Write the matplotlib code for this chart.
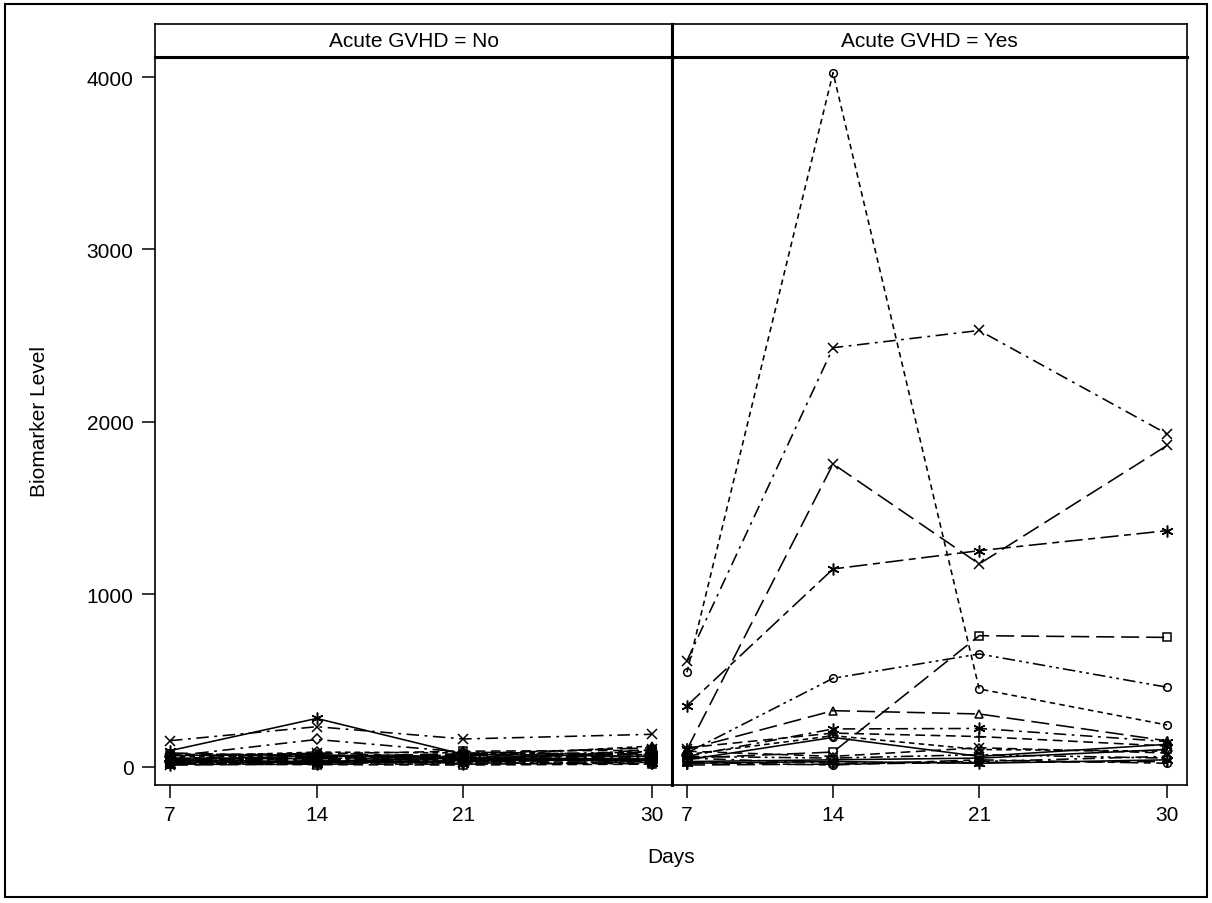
import matplotlib
matplotlib.use("Agg")
import matplotlib.pyplot as plt
from matplotlib.patches import Rectangle

plt.rcParams["font.family"] = ["Liberation Sans", "DejaVu Sans"]
plt.rcParams["lines.scale_dashes"] = False

# data: biomarker level per patient at days 7, 14, 21, 30
days = [7, 14, 21, 30]
panel_titles = ["Acute GVHD = No", "Acute GVHD = Yes"]
y_ticks = [0, 1000, 2000, 3000, 4000]

gvhd_no = [
    [151, 232, 161, 188],
    [93, 280, 72, 60],
    [60, 158, 85, 70],
    [80, 60, 75, 110],
    [70, 75, 90, 95],
    [55, 65, 60, 120],
    [50, 45, 70, 85],
    [45, 80, 55, 60],
    [40, 55, 65, 75],
    [38, 30, 50, 45],
    [35, 50, 40, 90],
    [30, 40, 60, 55],
    [28, 25, 35, 40],
    [25, 45, 30, 65],
    [22, 35, 45, 30],
    [20, 30, 25, 50],
    [18, 20, 40, 35],
    [15, 25, 20, 30],
    [12, 18, 30, 25],
    [10, 15, 15, 20],
    [65, 70, 45, 35],
    [58, 85, 80, 70],
    [48, 38, 28, 100],
    [42, 62, 52, 42],
    [32, 28, 22, 18],
    [26, 52, 48, 80],
    [16, 12, 10, 15],
]

gvhd_yes = [
    [548, 4025, 451, 242],
    [615, 2430, 2530, 1930],
    [100, 1756, 1176, 1863],
    [354, 1147, 1253, 1369],
    [50, 85, 760, 750],
    [80, 513, 654, 461],
    [100, 325, 306, 150],
    [60, 219, 222, 146],
    [110, 195, 175, 120],
    [70, 180, 100, 90],
    [40, 170, 60, 130],
    [90, 60, 110, 80],
    [30, 40, 50, 100],
    [50, 20, 30, 60],
    [20, 30, 20, 40],
    [10, 15, 25, 30],
    [60, 50, 70, 50],
    [25, 10, 40, 20],
]

# line / marker styles (SAS journal-like)
ls_cycle = {
    "solid": "-",
    "short": (0, (4, 3)),
    "medium": (0, (7, 4)),
    "long": (0, (13, 5)),
    "dashdot": (0, (9, 4, 2, 4)),
    "dashdotdot": (0, (9, 3, 2, 3, 2, 3)),
    "longshort": (0, (13, 4, 5, 4)),
}
asterisk = (6, 2, 0)

no_styles = [
    ("x", "dashdot"), (asterisk, "solid"), ("D", "dashdot"),
    ("o", "long"), ("s", "medium"), ("^", "short"), ("+", "dashdotdot"),
    ("x", "longshort"), (asterisk, "long"), ("o", "solid"), ("D", "short"),
]
yes_styles = [
    ("o", "short"), ("x", "dashdot"), ("x", "long"), (asterisk, "longshort"),
    ("s", "long"), ("o", "dashdotdot"), ("^", "long"), (asterisk, "dashdot"),
    ("+", "medium"), ("D", "short"), ("o", "solid"), ("x", "medium"),
    ("s", "solid"), ("^", "dashdot"), (asterisk, "solid"), ("+", "long"),
    ("D", "dashdotdot"), ("o", "longshort"),
]
mk_size = {"D": 5, "o": 5.5, "s": 5.5, "^": 6, "x": 6.5, "+": 7}

W, H = 1212, 904
fig = plt.figure(figsize=(W / 100, H / 100), dpi=100)

def fx(px):
    return px / W

def fy(py):
    return 1 - py / H

ax_top, ax_bot = 58, 786
hdr_top = 25
panels = [(155, 672), (672, 1187)]
xlim = (6.283, 30.955)
ylim = (-106, 4116)

fs = 15

for i, (x0, x1) in enumerate(panels):
    ax = fig.add_axes([fx(x0), fy(ax_bot), fx(x1 - x0), (ax_bot - ax_top) / H])
    data = gvhd_no if i == 0 else gvhd_yes
    styles = no_styles if i == 0 else yes_styles
    for j, vals in enumerate(data):
        mk, ls = styles[j % len(styles)]
        ms = mk_size.get(mk, 8) if isinstance(mk, str) else 8.5
        ax.plot(days, vals, color="black", lw=1.15, linestyle=ls_cycle[ls],
                marker=mk, markersize=ms, markerfacecolor="none",
                markeredgecolor="black", markeredgewidth=1.1)
    ax.set_xlim(*xlim)
    ax.set_ylim(*ylim)
    ax.set_xticks(days)
    ax.set_xticklabels([str(d) for d in days], fontsize=fs)
    ax.tick_params(axis="x", length=9.5, width=1.1, pad=5)
    if i == 0:
        ax.set_yticks(y_ticks)
        ax.set_yticklabels([str(v) for v in y_ticks], fontsize=fs)
        ax.tick_params(axis="y", length=9.5, width=1.1, pad=6)
    else:
        ax.set_yticks([])
    for s in ax.spines.values():
        s.set_linewidth(1.2)
    ax.spines["top"].set_linewidth(2.2)
    if i == 0:
        ax.spines["right"].set_linewidth(2.2)
    else:
        ax.spines["left"].set_linewidth(2.2)

    # header strip
    hx = fig.add_axes([fx(x0), fy(ax_top), fx(x1 - x0), (ax_top - hdr_top) / H])
    hx.set_xticks([])
    hx.set_yticks([])
    hx.set_facecolor("white")
    for s in hx.spines.values():
        s.set_linewidth(1.2)
    hx.spines["bottom"].set_linewidth(2.2)
    if i == 0:
        hx.spines["right"].set_linewidth(2.2)
    else:
        hx.spines["left"].set_linewidth(2.2)
    hx.text(0.5, 0.5, panel_titles[i], ha="center", va="center",
            fontsize=fs, transform=hx.transAxes)

fig.text(fx(40), fy(422), "Biomarker Level", rotation=90, ha="center",
         va="center", fontsize=fs)
fig.text(fx(671), fy(858), "Days", ha="center", va="center", fontsize=fs)

fig.patches.append(Rectangle((fx(5), fy(898)), fx(1202), (898 - 5) / H,
                             transform=fig.transFigure, fill=False,
                             edgecolor="black", lw=1.5))

fig.savefig("out.png", dpi=100)
